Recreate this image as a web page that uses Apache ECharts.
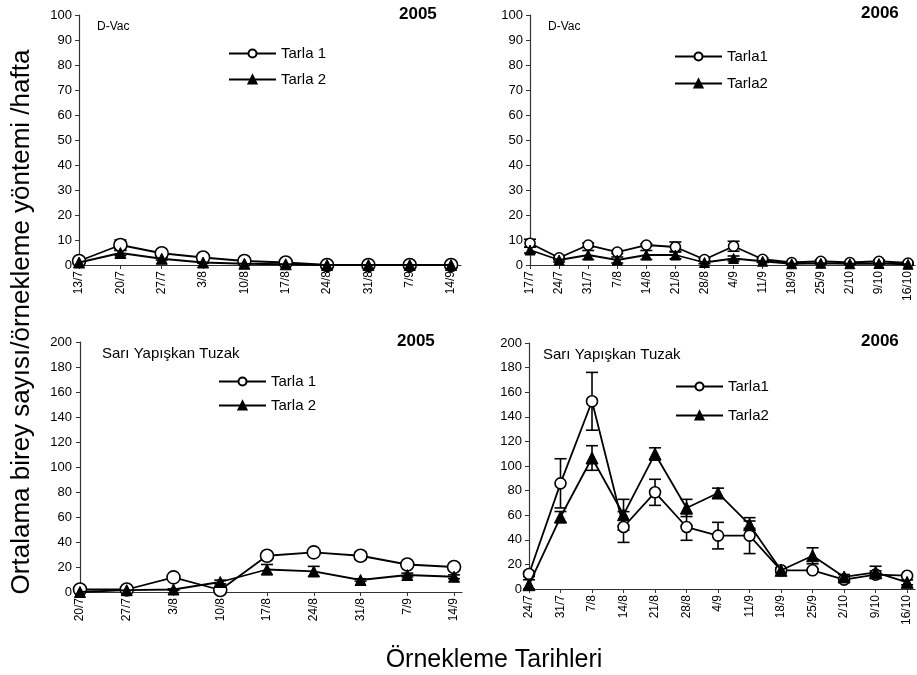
<!DOCTYPE html>
<html>
<head>
<meta charset="utf-8">
<script src="https://cdn.jsdelivr.net/npm/echarts@6/dist/echarts.min.js"></script>
<style>
  html, body { margin: 0; padding: 0; background: #fff; }
  #chart { width: 917px; height: 675px; }
</style>
</head>
<body>
<div id="chart"></div>
<script>
// Sampling dates per panel
const datesDvac2005 = ['13/7','20/7','27/7','3/8','10/8','17/8','24/8','31/8','7/9','14/9'];
const datesDvac2006 = ['17/7','24/7','31/7','7/8','14/8','21/8','28/8','4/9','11/9','18/9','25/9','2/10','9/10','16/10'];
const datesTrap2005 = ['20/7','27/7','3/8','10/8','17/8','24/8','31/8','7/9','14/9'];
const datesTrap2006 = ['24/7','31/7','7/8','14/8','21/8','28/8','4/9','11/9','18/9','25/9','2/10','9/10','16/10'];

// D-Vac 2005: means and standard errors
const dvac2005Field1 = [1.6, 8, 4.7, 3, 1.6, 1, 0, 0, 0, 0];
const dvac2005Field1Err = [0.5, 2, 0.8, 0.5, 0.3, 0.2, 0, 0, 0, 0];
const dvac2005Field2 = [1, 4.8, 2.5, 1, 0.5, 0.3, 0, 0, 0, 0];
const dvac2005Field2Err = [0.3, 1, 0.5, 0.3, 0.2, 0.1, 0, 0, 0, 0];

// D-Vac 2006
const dvac2006Field1 = [8.7, 2.9, 8, 5.2, 8, 7.2, 2.2, 7.5, 2.3, 1, 1.5, 1, 1.5, 0.8];
const dvac2006Field1Err = [1.6, 0.8, 0.8, 0.6, 0.5, 2, 0.5, 2, 0.5, 0.3, 0.5, 0.3, 0.5, 0.3];
const dvac2006Field2 = [6, 2, 4, 2, 4, 4, 1, 2.6, 1.5, 0.5, 0.7, 0.5, 0.6, 0.3];
const dvac2006Field2Err = [1.2, 0.8, 1.8, 1.2, 1.8, 1.5, 0.5, 1, 0.5, 0.3, 0.3, 0.3, 0.3, 0.2];

// Yellow sticky trap 2005
const trap2005Field1 = [2, 2, 11.7, 1.6, 29, 31.7, 29, 22, 20];
const trap2005Field1Err = [0.5, 0.5, 1, 0.5, 2, 2, 3, 1.5, 1.5];
const trap2005Field2 = [0, 1.5, 2, 8, 18, 16.5, 9.6, 13.6, 12.2];
const trap2005Field2Err = [0.3, 0.5, 0.5, 1.5, 4, 4, 1, 1.5, 1.5];

// Yellow sticky trap 2006
const trap2006Field1 = [12.2, 85.9, 152.6, 50.4, 78.6, 50.4, 43.4, 43.4, 15.2, 15.2, 7.6, 11.7, 10.8];
const trap2006Field1Err = [2, 20, 23.5, 12.5, 10.6, 10.8, 10.8, 14.6, 1, 1, 1, 3, 1];
const trap2006Field2 = [3.5, 58.5, 106.5, 60.4, 109.8, 65.9, 78, 52.3, 15.2, 27, 9.8, 13.5, 5.4];
const trap2006Field2Err = [4, 4.5, 10, 12.5, 5, 7, 4, 3, 2, 6.5, 2, 5, 2];

const FONT = '"Liberation Sans", Arial, sans-serif';

// Panel layout: grid box in px and x-range padding (in category steps)
const panels = [
  { dates: datesDvac2005, box: { left: 77, top: 15, width: 384, height: 250 }, xmin: -0.05, xmax: 9.24, ymax: 100, yint: 10,
    s1: dvac2005Field1, e1: dvac2005Field1Err, s2: dvac2005Field2, e2: dvac2005Field2Err,
    n1: 'Tarla 1', n2: 'Tarla 2', sym1: 13, sym2: 11 },
  { dates: datesDvac2006, box: { left: 528, top: 15, width: 387, height: 250 }, xmin: -0.07, xmax: 13.24, ymax: 100, yint: 10,
    s1: dvac2006Field1, e1: dvac2006Field1Err, s2: dvac2006Field2, e2: dvac2006Field2Err,
    n1: 'Tarla1', n2: 'Tarla2', sym1: 10, sym2: 10 },
  { dates: datesTrap2005, box: { left: 77, top: 342, width: 385, height: 250 }, xmin: -0.064, xmax: 8.17, ymax: 200, yint: 20,
    s1: trap2005Field1, e1: trap2005Field1Err, s2: trap2005Field2, e2: trap2005Field2Err,
    n1: 'Tarla 1', n2: 'Tarla 2', sym1: 13, sym2: 11 },
  { dates: datesTrap2006, box: { left: 527, top: 343, width: 388, height: 246 }, xmin: -0.063, xmax: 12.25, ymax: 200, yint: 20,
    s1: trap2006Field1, e1: trap2006Field1Err, s2: trap2006Field2, e2: trap2006Field2Err,
    n1: 'Tarla1', n2: 'Tarla2', sym1: 11, sym2: 12 }
];

function errorBarRender(params, api) {
  const x = api.value(0), y = api.value(1), e = api.value(2);
  if (!e) return null;
  const lo = api.coord([x, Math.max(0, y - e)]);
  const hi = api.coord([x, y + e]);
  const w = 6;
  const st = { stroke: '#000', lineWidth: 1.6 };
  return {
    type: 'group',
    children: [
      { type: 'line', shape: { x1: hi[0], y1: hi[1], x2: lo[0], y2: lo[1] }, style: st },
      { type: 'line', shape: { x1: hi[0] - w, y1: hi[1], x2: hi[0] + w, y2: hi[1] }, style: st },
      { type: 'line', shape: { x1: lo[0] - w, y1: lo[1], x2: lo[0] + w, y2: lo[1] }, style: st }
    ]
  };
}

const grid = [], xAxis = [], yAxis = [], series = [];
panels.forEach((p, k) => {
  grid.push(Object.assign({ containLabel: false }, p.box));
  const idx = p.dates.map((_, i) => i);
  xAxis.push({
    type: 'value', gridIndex: k, min: p.xmin, max: p.xmax,
    splitLine: { show: false },
    axisLine: { show: true, onZero: false, lineStyle: { color: '#333', width: 1.2 } },
    axisTick: { show: true, customValues: idx, length: 4, lineStyle: { color: '#333' } },
    axisLabel: {
      customValues: idx, rotate: 90, margin: 6,
      color: '#000', fontFamily: FONT, fontSize: 12,
      formatter: v => p.dates[Math.round(v)]
    }
  });
  yAxis.push({
    type: 'value', gridIndex: k, min: 0, max: p.ymax, interval: p.yint,
    splitLine: { show: false },
    axisLine: { show: true, lineStyle: { color: '#333', width: 1.2 } },
    axisTick: { show: true, length: 4, lineStyle: { color: '#333' } },
    axisLabel: { color: '#000', fontFamily: FONT, fontSize: 13, margin: 5 }
  });
  series.push({
    type: 'custom', name: 'err1-' + k, xAxisIndex: k, yAxisIndex: k, z: 1,
    renderItem: errorBarRender, encode: { x: 0, y: 1 },
    data: p.s1.map((v, i) => [i, v, p.e1[i]])
  });
  series.push({
    type: 'custom', name: 'err2-' + k, xAxisIndex: k, yAxisIndex: k, z: 1,
    renderItem: errorBarRender, encode: { x: 0, y: 1 },
    data: p.s2.map((v, i) => [i, v, p.e2[i]])
  });
  series.push({
    type: 'line', name: p.n1, xAxisIndex: k, yAxisIndex: k, z: 3,
    data: p.s1.map((v, i) => [i, v]), symbol: 'circle', symbolSize: p.sym1, showAllSymbol: true,
    lineStyle: { color: '#000', width: 1.8 },
    itemStyle: { color: '#fff', borderColor: '#000', borderWidth: 1.6 }
  });
  series.push({
    type: 'line', name: p.n2, xAxisIndex: k, yAxisIndex: k, z: 4,
    data: p.s2.map((v, i) => [i, v]), symbol: 'triangle', symbolSize: p.sym2, showAllSymbol: true,
    lineStyle: { color: '#000', width: 1.8 },
    itemStyle: { color: '#000', borderColor: '#000', borderWidth: 1 }
  });
});

const legendBase = {
  orient: 'vertical', selectedMode: false, padding: 0,
  itemWidth: 47, itemHeight: 10,
  textStyle: { color: '#000', fontFamily: FONT, fontSize: 15 }
};
const legend = [
  Object.assign({}, legendBase, { data: ['Tarla 1', 'Tarla 2'], left: 228, top: 46, itemGap: 11 }),
  Object.assign({}, legendBase, { data: ['Tarla1', 'Tarla2'], left: 674, top: 49, itemGap: 12 }),
  Object.assign({}, legendBase, { data: ['Tarla 1', 'Tarla 2'], left: 218, top: 374, itemGap: 9 }),
  Object.assign({}, legendBase, { data: ['Tarla1', 'Tarla2'], left: 675, top: 379, itemGap: 14 })
];

function label(text, x, y, size, bold) {
  return {
    type: 'text', left: x, top: y,
    style: { text: text, fill: '#000', font: (bold ? 'bold ' : '') + size + 'px ' + FONT }
  };
}

const graphic = [
  label('2005', 399, 6, 17, true),
  label('2006', 861, 5, 17, true),
  label('2005', 397, 333, 17, true),
  label('2006', 861, 333, 17, true),
  label('D-Vac', 97, 21, 12, false),
  label('D-Vac', 548, 21, 12, false),
  label('Sarı Yapışkan Tuzak', 102, 346, 15, false),
  label('Sarı Yapışkan Tuzak', 543, 347, 15, false),
  {
    type: 'text', x: 494, y: 660,
    style: { text: 'Örnekleme Tarihleri', fill: '#000', font: '25px ' + FONT, textAlign: 'center', textVerticalAlign: 'middle' }
  },
  {
    type: 'text', x: 22, y: 322, rotation: Math.PI / 2,
    style: { text: 'Ortalama birey sayısı/örnekleme yöntemi /hafta', fill: '#000', font: '26px ' + FONT, textAlign: 'center', textVerticalAlign: 'middle' }
  }
];

const chart = echarts.init(document.getElementById('chart'), null, { renderer: 'canvas' });
chart.setOption({
  animation: false,
  backgroundColor: '#fff',
  grid, xAxis, yAxis, series, legend, graphic
});
</script>
</body>
</html>
